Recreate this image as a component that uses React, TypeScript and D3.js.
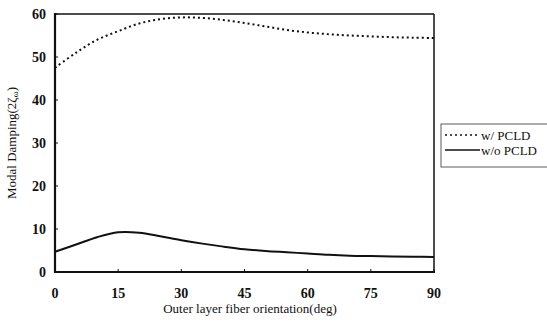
import React from 'react';
import * as d3 from 'd3';

const W = 547;
const H = 329;
const margin = { left: 55, right: 113, top: 14, bottom: 57 };

// fiber orientation (deg)
const angles = [0, 5, 10, 15, 20, 25, 30, 35, 40, 45, 50, 55, 60, 65, 70, 75, 80, 85, 90];
// with PCLD
const withPCLD = [47.5, 51.0, 54.0, 56.0, 57.8, 58.8, 59.2, 59.1, 58.6, 57.9, 57.1, 56.3, 55.7, 55.3, 55.0, 54.8, 54.6, 54.5, 54.4];
// without PCLD
const withoutPCLD = [4.7, 6.4, 8.1, 9.25, 9.15, 8.3, 7.4, 6.6, 5.9, 5.3, 4.9, 4.6, 4.3, 4.0, 3.8, 3.7, 3.6, 3.55, 3.5];

const xTicks = [0, 15, 30, 45, 60, 75, 90];
const yTicks = [0, 10, 20, 30, 40, 50, 60];
const legendLabels = ['w/ PCLD', 'w/o PCLD'];

const serif = { fontFamily: "'Liberation Serif', 'DejaVu Serif', serif" };

export default function App() {
  const x = d3.scaleLinear().domain([0, 90]).range([margin.left, W - margin.right]);
  const y = d3.scaleLinear().domain([0, 60]).range([H - margin.bottom, margin.top]);

  const line = d3
    .line<number>()
    .x((d, i) => x(angles[i]))
    .y(d => y(d))
    .curve(d3.curveCatmullRom.alpha(0.5));

  const x0 = x(0);
  const x1 = x(90);
  const y0 = y(0);
  const y1 = y(60);

  const lgX = 441;
  const lgY = 124;

  return (
    <svg width={W} height={H} style={{ position: 'absolute', left: 0, top: 0 }}>
      <rect width={W} height={H} fill="#fff" />

      <path d={line(withPCLD) || ''} fill="none" stroke="#111" strokeWidth={2} strokeDasharray="2,3" />
      <path d={line(withoutPCLD) || ''} fill="none" stroke="#111" strokeWidth={2} />

      {/* frame */}
      <line x1={x0} x2={x1} y1={y1} y2={y1} stroke="#111" strokeWidth={1.5} />
      <line x1={x1} x2={x1} y1={y1} y2={y0} stroke="#111" strokeWidth={1.5} />
      <line x1={x0} x2={x0} y1={y1 - 1} y2={y0 + 1} stroke="#111" strokeWidth={2.2} />
      <line x1={x0 - 1} x2={x1 + 1} y1={y0} y2={y0} stroke="#111" strokeWidth={2.2} />

      {xTicks.map(t => (
        <g key={'x' + t}>
          <line x1={x(t)} x2={x(t)} y1={y0} y2={y0 - 3} stroke="#111" strokeWidth={1} />
          <text x={x(t)} y={y0 + 26} textAnchor="middle" fontSize={14} fontWeight="bold" fill="#111" style={serif}>
            {t}
          </text>
        </g>
      ))}
      {yTicks.map(t => (
        <g key={'y' + t}>
          <line x1={x0} x2={x0 + 3} y1={y(t)} y2={y(t)} stroke="#111" strokeWidth={1} />
          <text x={x0 - 9} y={y(t) + 5} textAnchor="end" fontSize={14} fontWeight="bold" fill="#111" style={serif}>
            {t}
          </text>
        </g>
      ))}

      <text x={250} y={313} textAnchor="middle" fontSize={13} fill="#111" style={serif}>
        Outer layer fiber orientation(deg)
      </text>
      <text transform={`translate(16, 143) rotate(-90)`} textAnchor="middle" fontSize={13} fill="#111" style={serif}>
        Modal Damping(2ζ<tspan fontSize={9} dy={2}>ω</tspan>
        <tspan dy={-2}>)</tspan>
      </text>

      {/* legend */}
      <rect x={lgX} y={lgY} width={W - lgX + 2} height={43} fill="#fff" stroke="#333" strokeWidth={0.8} />
      <line x1={lgX + 4} x2={lgX + 37} y1={lgY + 11} y2={lgY + 11} stroke="#111" strokeWidth={1.5} strokeDasharray="2,3" />
      <line x1={lgX + 4} x2={lgX + 39} y1={lgY + 26} y2={lgY + 26} stroke="#111" strokeWidth={1.3} />
      {legendLabels.map((l, i) => (
        <text key={l} x={lgX + 40} y={lgY + 15.5 + i * 15} fontSize={13} fill="#111" style={serif}>
          {l}
        </text>
      ))}
    </svg>
  );
}
